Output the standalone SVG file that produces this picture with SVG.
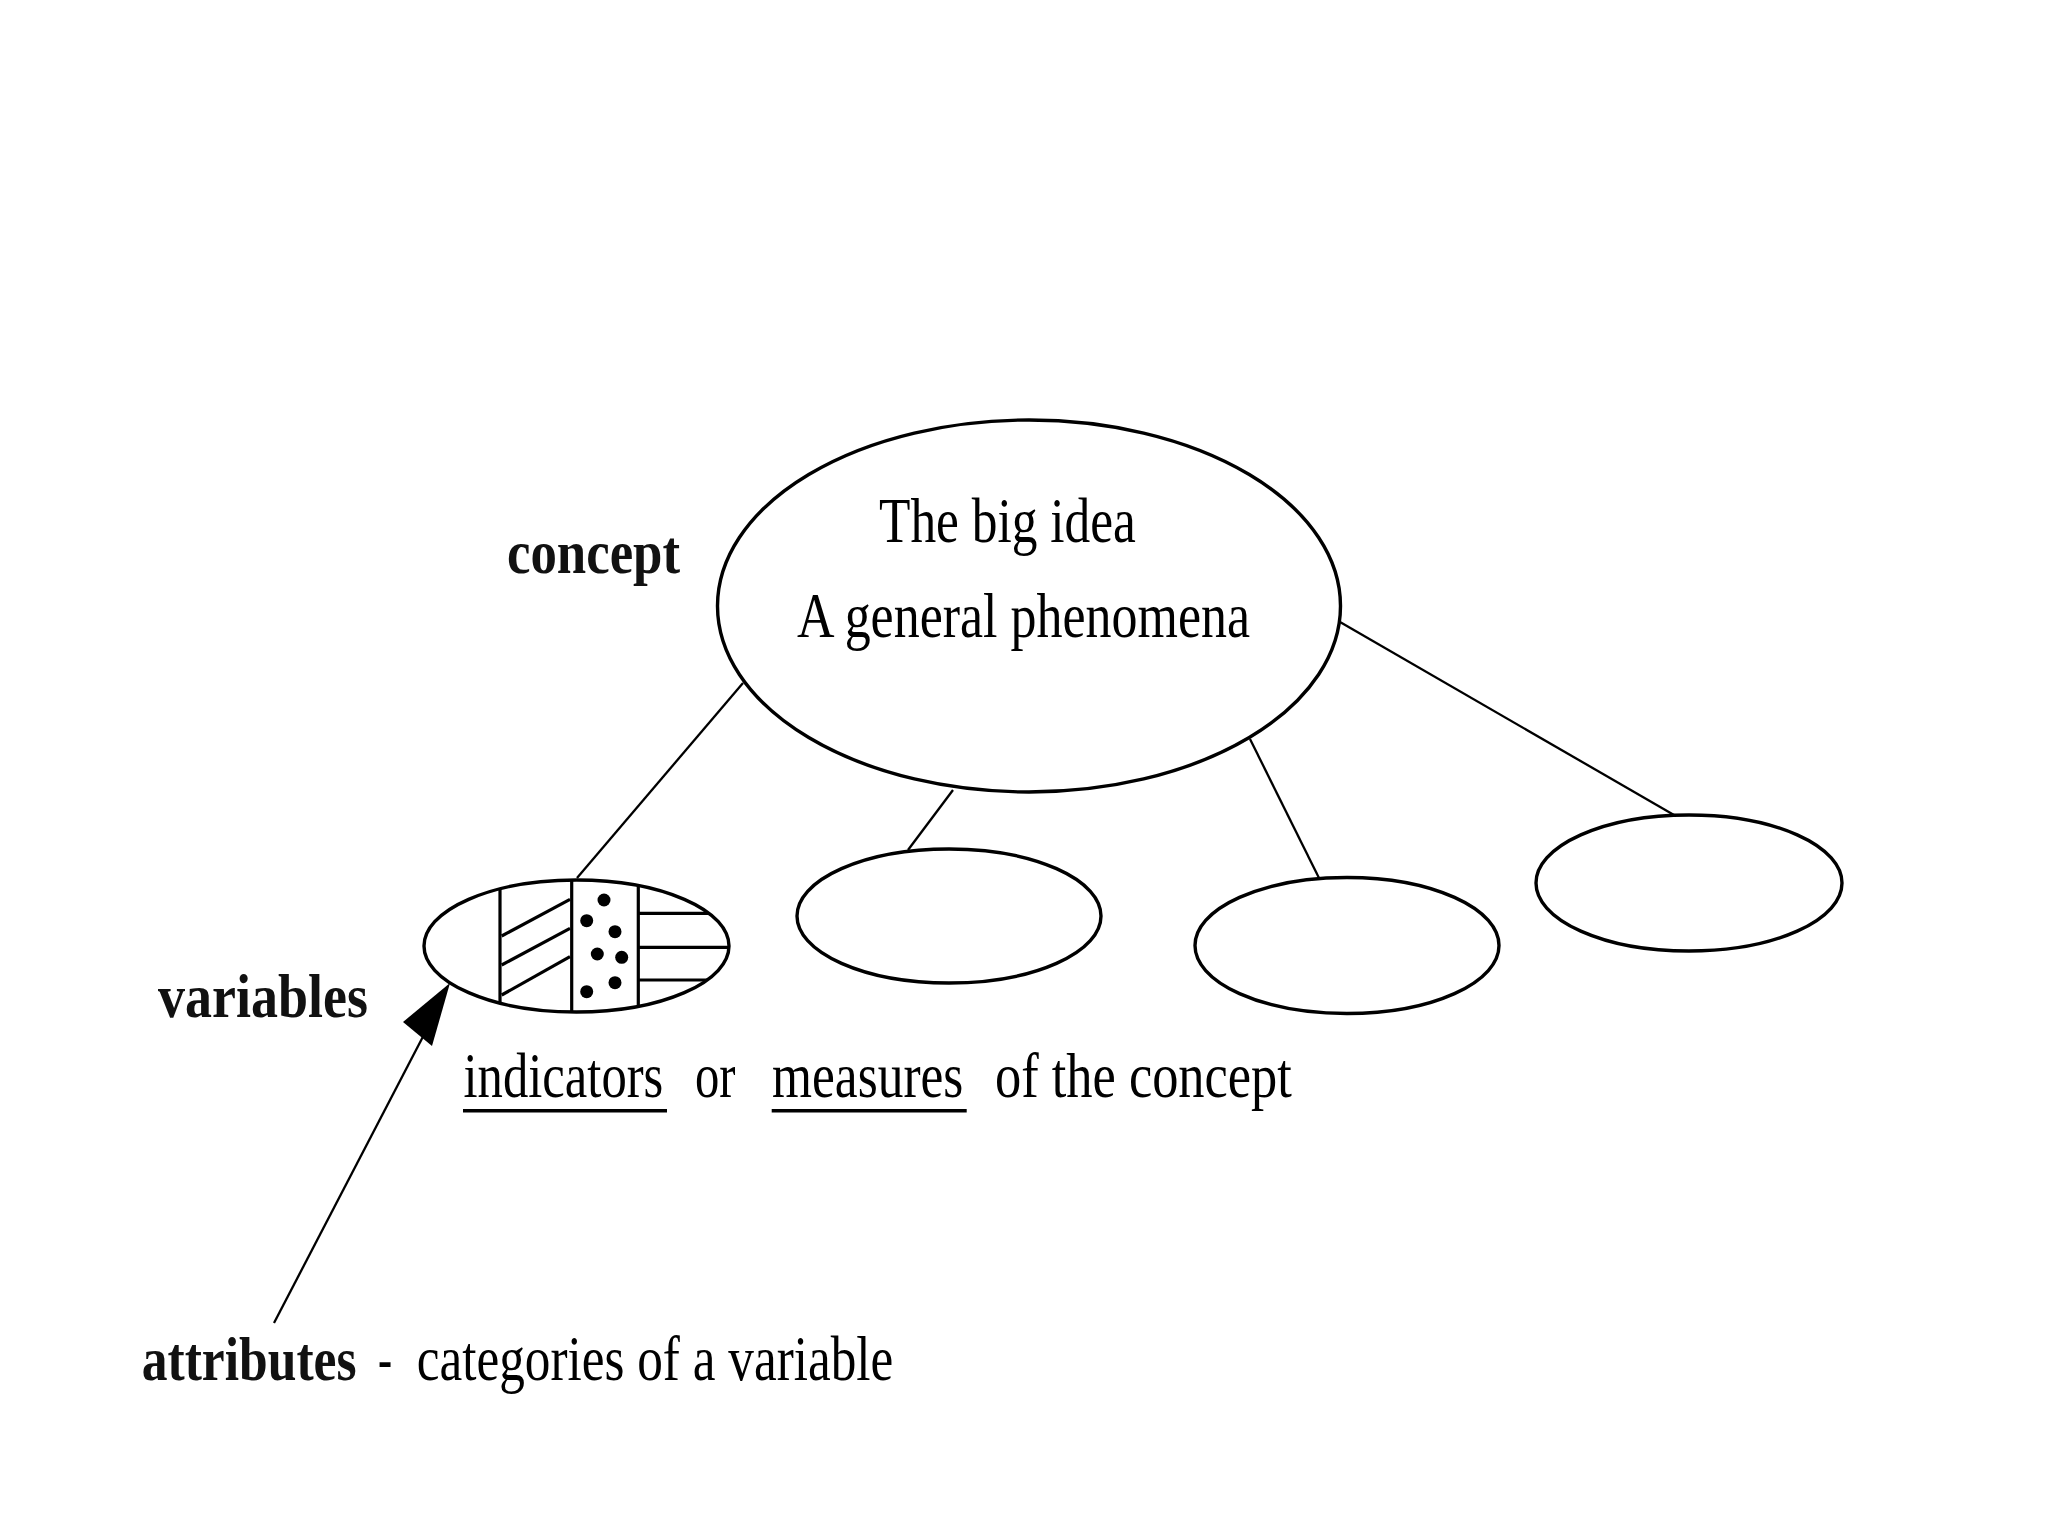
<svg xmlns="http://www.w3.org/2000/svg" width="2048" height="1536" viewBox="0 0 2048 1536">
<style>
.shape{fill:none;stroke:#000;stroke-width:3.4}
.conn{fill:none;stroke:#000;stroke-width:2.3}
.hatch{stroke:#000;stroke-width:3.2;fill:none}
.t{font-family:"Liberation Serif","Times New Roman",serif;font-size:64px;fill:#000}
.b{font-family:"Liberation Serif","Times New Roman",serif;font-size:62px;font-weight:bold;fill:#111}
</style>
<defs>
<clipPath id="clipE1"><ellipse cx="576.5" cy="946" rx="152.5" ry="66"/></clipPath>
</defs>
<rect width="2048" height="1536" fill="#fff"/>
<g id="connectors">
<line class="conn" x1="743" y1="683" x2="577" y2="878"/>
<line class="conn" x1="953" y1="790" x2="908" y2="850"/>
<line class="conn" x1="1250" y1="739" x2="1319" y2="878"/>
<line class="conn" x1="1340" y1="622" x2="1674" y2="815"/>
<line class="conn" x1="274" y1="1323" x2="428" y2="1027"/>
<polygon points="450,983 403,1022 432,1046" fill="#000"/>
</g>
<g id="concept">
<ellipse class="shape" cx="1029" cy="606" rx="311.5" ry="186"/>
<text class="t" transform="translate(879,542) scale(0.803,1)">The big idea</text>
<text class="t" transform="translate(797,637) scale(0.812,1)">A general phenomena</text>
</g>
<g id="variable1">
<g clip-path="url(#clipE1)">
<line class="hatch" x1="500" y1="870" x2="500" y2="1020"/>
<line class="hatch" x1="571.7" y1="870" x2="571.7" y2="1020"/>
<line class="hatch" x1="638.3" y1="870" x2="638.3" y2="1020"/>
<line class="hatch" x1="638.3" y1="913.3" x2="740" y2="913.3"/>
<line class="hatch" x1="638.3" y1="947.3" x2="740" y2="947.3"/>
<line class="hatch" x1="638.3" y1="980" x2="740" y2="980"/>
</g>
<line class="hatch" x1="501.7" y1="936" x2="570" y2="899.3"/>
<line class="hatch" x1="501.7" y1="965" x2="570" y2="928.3"/>
<line class="hatch" x1="501.7" y1="995" x2="570" y2="956.7"/>
<g fill="#000">
<circle cx="604" cy="900" r="6.5"/>
<circle cx="586.7" cy="920.7" r="6.5"/>
<circle cx="615" cy="931.7" r="6.5"/>
<circle cx="597.3" cy="954" r="6.5"/>
<circle cx="621.7" cy="957.3" r="6.5"/>
<circle cx="615" cy="982.7" r="6.5"/>
<circle cx="586.7" cy="991.7" r="6.5"/>
</g>
<ellipse class="shape" cx="576.5" cy="946" rx="152.5" ry="66"/>
</g>
<g id="variable2"><ellipse class="shape" cx="949" cy="916" rx="152" ry="67"/></g>
<g id="variable3"><ellipse class="shape" cx="1347" cy="945.5" rx="152" ry="68"/></g>
<g id="variable4"><ellipse class="shape" cx="1689" cy="883" rx="153" ry="68"/></g>
<g id="labels">
<text class="b" transform="translate(507,573) scale(0.852,1)">concept</text>
<text class="b" transform="translate(158,1017) scale(0.871,1)">variables</text>
<text class="t" transform="translate(463.5,1097) scale(0.792,1)">indicators</text>
<rect x="463" y="1109" width="204" height="3.5" fill="#000"/>
<text class="t" transform="translate(695,1097) scale(0.76,1)">or</text>
<text class="t" transform="translate(772,1097) scale(0.804,1)">measures</text>
<rect x="771.7" y="1109" width="195" height="3.5" fill="#000"/>
<text class="t" transform="translate(995,1097) scale(0.819,1)">of the concept</text>
<text class="b" transform="translate(141.7,1380) scale(0.832,1)">attributes</text>
<text class="t" transform="translate(378,1380) scale(0.66,1)">-</text>
<text class="t" transform="translate(416.7,1380) scale(0.801,1)">categories of a variable</text>
</g>
</svg>
